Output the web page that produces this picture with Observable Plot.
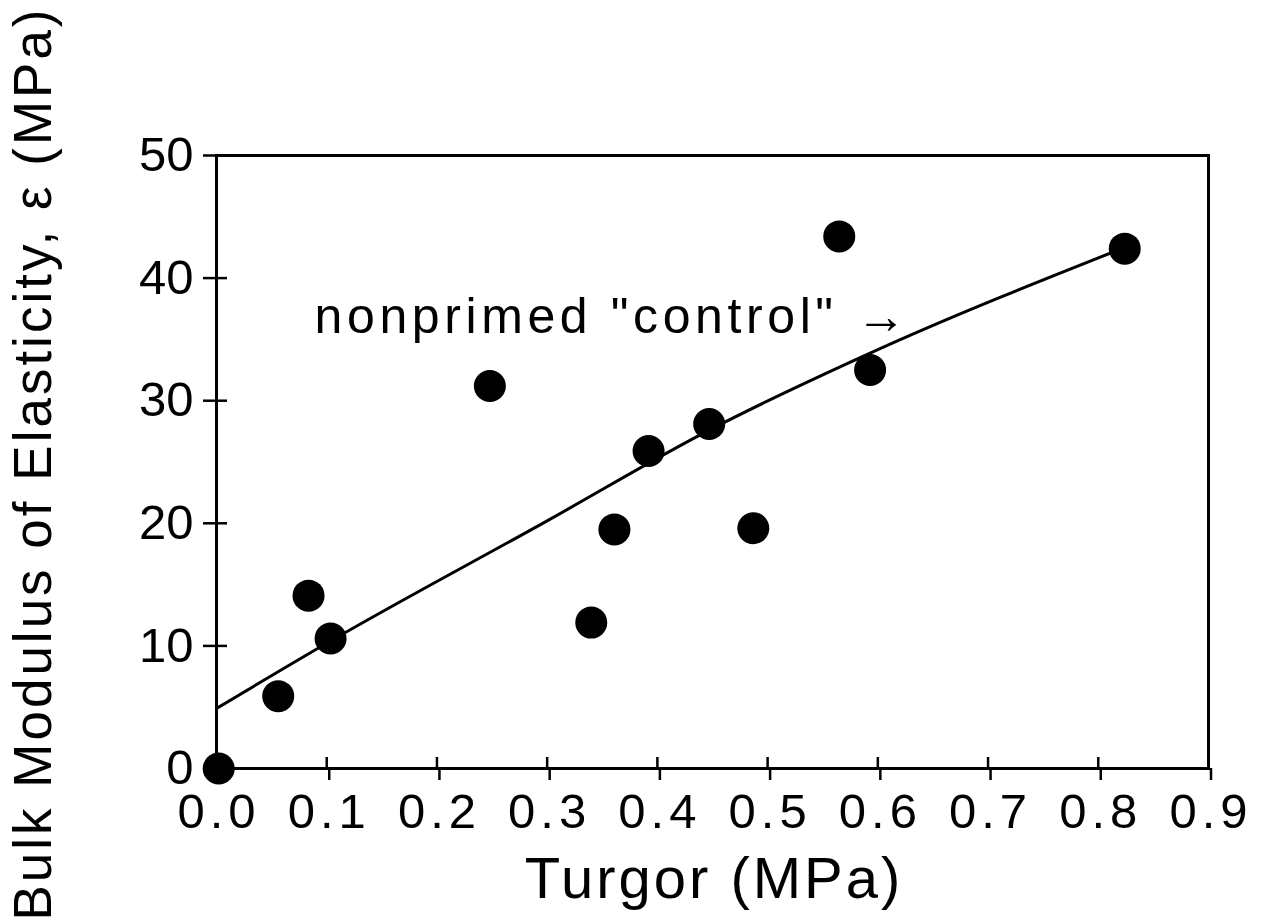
<!DOCTYPE html>
<html><head><meta charset="utf-8">
<script src="https://cdn.jsdelivr.net/npm/d3@7"></script>
<script src="https://cdn.jsdelivr.net/npm/@observablehq/plot@0.6"></script>
<style>body{margin:0;background:#fff} svg{display:block}</style>
</head><body><div id="chart"></div>
<script>
// Measured points: turgor (MPa) vs bulk modulus of elasticity (MPa)
const turgor  = [0.002, 0.056, 0.0835, 0.1035, 0.248, 0.340, 0.361, 0.392, 0.447, 0.487, 0.565, 0.593, 0.824];
const modulus = [0.0,   5.9,   14.1,   10.6,   31.2,  11.9,  19.5,  25.9,  28.1,  19.6,  43.4,  32.5,  42.4];
// Fitted curve
const fitTurgor  = [0.0, 0.1035, 0.30, 0.447, 0.591, 0.824];
const fitModulus = [4.9, 10.4,   20.2, 27.6,  33.8,  42.5];
const xTicks = [0, 0.1, 0.2, 0.3, 0.4, 0.5, 0.6, 0.7, 0.8, 0.9];
const yTicks = [0, 10, 20, 30, 40, 50];
const annotationText = ['nonprimed "control" \u2192'];
const annotationX = [0.089];
const annotationY = [35.5];
const xLabel = "Turgor (MPa)";
const yLabel = "Bulk Modulus of Elasticity, \u03b5 (MPa)";

const points = turgor.map((t, i) => ({t, e: modulus[i]}));
const fit = fitTurgor.map((t, i) => ({t, e: fitModulus[i]}));
const notes = annotationText.map((s, i) => ({s, x: annotationX[i], y: annotationY[i]}));

const W = 1264, H = 921;
const mL = 216, mR = 56, mT = 155, mB = 153;
const fw = W - mL - mR, fh = H - mT - mB;
const FONT = "Liberation Sans, Arial, sans-serif";

const chart = Plot.plot({
  width: W, height: H,
  marginLeft: mL, marginRight: mR, marginTop: mT, marginBottom: mB,
  style: {fontFamily: FONT, fontSize: "48px", background: "#fff", color: "#000"},
  x: {domain: [0, 0.9]},
  y: {domain: [0, 50]},
  marks: [
    Plot.frame({stroke: "#000", strokeWidth: 3}),
    Plot.axisX(xTicks, {tickSize: 12, tickPadding: 13, strokeWidth: 2.5, tickFormat: d3.format(".1f"), fontSize: 49, label: null, dx: 2.5}),
    Plot.axisY(yTicks, {tickSize: 13, tickPadding: 10, strokeWidth: 2.5, tickFormat: d3.format("d"), fontSize: 49, label: null}),
    Plot.tickX(xTicks, {x: d => d, insetTop: fh - 11, stroke: "#000", strokeWidth: 2.5}),
    Plot.tickY(yTicks, {y: d => d, insetRight: fw - 11, stroke: "#000", strokeWidth: 2.5}),
    Plot.line(fit, {x: "t", y: "e", curve: "monotone-x", stroke: "#000", strokeWidth: 3}),
    Plot.dot(points, {x: "t", y: "e", r: 16, fill: "#000", stroke: "none"}),
    Plot.text(notes, {x: "x", y: "y", text: "s", textAnchor: "start", lineAnchor: "bottom", fontSize: 50, fill: "#000", ariaLabel: () => "annotation"}),
    Plot.text([xLabel], {frameAnchor: "bottom", textAnchor: "middle", dx: 1.5, dy: 129, lineAnchor: "bottom", fontSize: 58, fill: "#000", ariaLabel: () => "x label"}),
    Plot.text([yLabel], {frameAnchor: "left", textAnchor: "middle", dx: -182, dy: 1.5, rotate: -90, lineAnchor: "middle", fontSize: 53, fill: "#000", ariaLabel: () => "y label"})
  ]
});
const svg = d3.select(chart);
svg.selectAll('g[aria-label="x-axis tick label"]').style("letter-spacing", "5px");
svg.selectAll('[aria-label="annotation"]').style("letter-spacing", "4.6px");
svg.selectAll('[aria-label="x label"]').style("letter-spacing", "3px");
svg.selectAll('[aria-label="y label"]').style("letter-spacing", "3px");
document.getElementById("chart").appendChild(chart);
</script>
</body></html>
